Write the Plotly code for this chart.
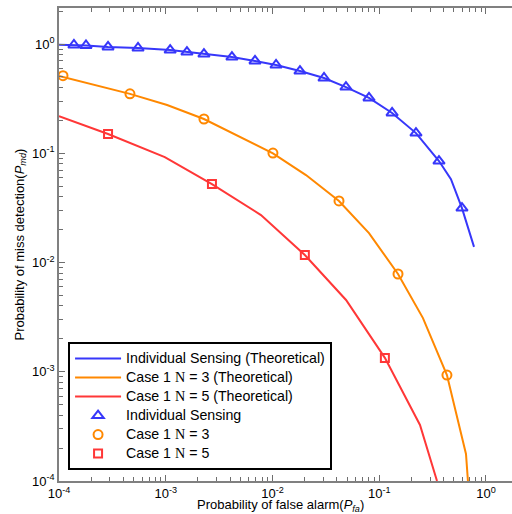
import numpy as np
import plotly.graph_objects as go

# ---- theoretical ROC curves (P_fa, P_md) ----
theory_ind_pfa = [1.0e-4, 1.38e-4, 1.79e-4, 2.88e-4, 5.50e-4, 1.10e-3, 1.58e-3, 2.28e-3,
                  4.17e-3, 6.86e-3, 0.0108, 0.0181, 0.0304, 0.0488, 0.0802, 0.132,
                  0.221, 0.363, 0.470, 0.596, 0.773]
theory_ind_pmd = [0.985, 0.98, 0.97, 0.94, 0.92, 0.88, 0.845, 0.81,
                  0.76, 0.70, 0.643, 0.566, 0.489, 0.404, 0.321, 0.234,
                  0.153, 0.0849, 0.058, 0.0315, 0.0139]

theory_n3_pfa = [1.0e-4, 4.62e-4, 1.03e-3, 2.28e-3, 0.0101, 0.0206, 0.042, 0.0802,
                 0.150, 0.257, 0.431, 0.650, 0.678]
theory_n3_pmd = [0.509, 0.350, 0.277, 0.206, 0.100, 0.0632, 0.0366, 0.0186,
                 0.00785, 3.10e-3, 9.33e-4, 1.77e-4, 1.0e-4]

theory_n5_pfa = [1.0e-4, 2.88e-4, 9.8e-4, 2.71e-3, 7.80e-3, 0.0201, 0.0489, 0.113,
                 0.241, 0.348]
theory_n5_pmd = [0.219, 0.150, 0.0924, 0.0523, 0.0272, 0.0117, 4.54e-3, 1.34e-3,
                 3.26e-4, 1.0e-4]

# ---- simulated points ----
sim_ind_pfa = [1.38e-4, 1.79e-4, 2.88e-4, 5.50e-4, 1.10e-3, 1.58e-3, 2.28e-3, 4.17e-3,
               6.86e-3, 0.0108, 0.0181, 0.0304, 0.0488, 0.0802, 0.132, 0.221,
               0.363, 0.596]
sim_ind_pmd = [0.98, 0.97, 0.94, 0.92, 0.88, 0.845, 0.81, 0.76,
               0.70, 0.643, 0.566, 0.489, 0.404, 0.321, 0.234, 0.153,
               0.0849, 0.0315]

sim_n3_pfa = [1.09e-4, 4.62e-4, 2.28e-3, 0.0101, 0.042, 0.150, 0.431]
sim_n3_pmd = [0.513, 0.350, 0.206, 0.1005, 0.0366, 0.00785, 9.33e-4]

sim_n5_pfa = [2.88e-4, 2.71e-3, 0.0201, 0.113]
sim_n5_pmd = [0.150, 0.0523, 0.0117, 1.34e-3]

BLUE = "rgb(55,55,250)"
ORANGE = "rgb(255,136,0)"
RED = "rgb(255,55,55)"
FONT = "Liberation Sans, Arial, sans-serif"
LABEL_SIZE = "font-size:14.2px"


def legend_label(text):
    # legend rows are spaced by the legend font size; the label itself is a bit larger,
    # and the symbol N is set in an upright serif face
    parts = text.split("N =")
    seg = lambda s: f"<span style='{LABEL_SIZE}'>{s}</span>"
    if len(parts) == 1:
        return seg(text)
    n_sym = f"<span style='{LABEL_SIZE};font-family:Liberation Serif'>N</span>"
    return seg(parts[0]) + n_sym + seg(" =" + parts[1])


fig = go.Figure()

for xs, ys, col, name in [
    (theory_ind_pfa, theory_ind_pmd, BLUE, "Individual Sensing (Theoretical)"),
    (theory_n3_pfa, theory_n3_pmd, ORANGE, "Case 1 N = 3 (Theoretical)"),
    (theory_n5_pfa, theory_n5_pmd, RED, "Case 1 N = 5 (Theoretical)"),
]:
    fig.add_trace(go.Scatter(x=xs, y=ys, mode="lines", name=legend_label(name),
                             line=dict(color=col, width=2)))

for xs, ys, col, sym, size, name in [
    (sim_ind_pfa, sim_ind_pmd, BLUE, "triangle-up-open", 10, "Individual Sensing"),
    (sim_n3_pfa, sim_n3_pmd, ORANGE, "circle-open", 9, "Case 1 N = 3"),
    (sim_n5_pfa, sim_n5_pmd, RED, "square-open", 8, "Case 1 N = 5"),
]:
    fig.add_trace(go.Scatter(x=xs, y=ys, mode="markers", name=legend_label(name),
                             marker=dict(color=col, symbol=sym, size=size,
                                         line=dict(color=col, width=2))))


def decade_ticks(lo, hi):
    vals = [10.0 ** e for e in range(lo, hi + 1)]
    text = [f"10<sup>{e}</sup>" for e in range(lo, hi + 1)]
    return vals, text


def minor_ticks(lo, hi, top):
    vals = []
    for e in range(lo, hi + 1):
        for m in range(2, 10):
            v = m * 10.0 ** e
            if v <= top:
                vals.append(v)
    return vals


x_hi, y_hi = 0.244, 0.33
xv, xt = decade_ticks(-4, 0)
yv, yt = decade_ticks(-4, 0)

axis_common = dict(
    type="log", showgrid=False, zeroline=False, showline=True,
    linecolor="rgb(128,128,128)", linewidth=1.5,
    ticks="inside", ticklen=6, tickcolor="rgb(110,110,110)", tickwidth=1,
    tickmode="array", tickfont=dict(family=FONT, size=13, color="black"),
)

fig.update_xaxes(range=[-4, x_hi], tickvals=xv, ticktext=xt, mirror="ticks",
                 minor=dict(tickvals=minor_ticks(-4, 0, 10 ** x_hi), ticks="inside",
                            ticklen=4, tickcolor="rgb(110,110,110)", showgrid=False),
                 **axis_common)
fig.update_yaxes(range=[-4, y_hi], tickvals=yv, ticktext=yt, mirror=False,
                 minor=dict(tickvals=minor_ticks(-4, 0, 10 ** y_hi), ticks="inside",
                            ticklen=4, tickcolor="rgb(110,110,110)", showgrid=False),
                 **axis_common)

fig.update_layout(
    width=512, height=514,
    margin=dict(l=59, r=0, t=8, b=33),
    paper_bgcolor="white", plot_bgcolor="white",
    font=dict(family=FONT, size=13, color="black"),
    showlegend=True,
    legend=dict(x=0.02, y=0.023, xanchor="left", yanchor="bottom",
                bordercolor="black", borderwidth=2, bgcolor="white",
                font=dict(family=FONT, size=12, color="black"),
                tracegroupgap=0, itemwidth=46),
    annotations=[
        dict(text="Probability of false alarm(<i>P<sub>fa</sub></i>)",
             x=0.5, y=0, xref="paper", yref="paper", xanchor="center", yanchor="top",
             yshift=-14, xshift=-5, showarrow=False, font=dict(family=FONT, size=13)),
        dict(text="Probability of miss detection(<i>P<sub>md</sub></i>)",
             x=0, y=0.5, xref="paper", yref="paper", xanchor="center", yanchor="middle",
             xshift=-39, textangle=-90, showarrow=False, font=dict(family=FONT, size=13)),
    ],
)

fig.write_html("out.html")
